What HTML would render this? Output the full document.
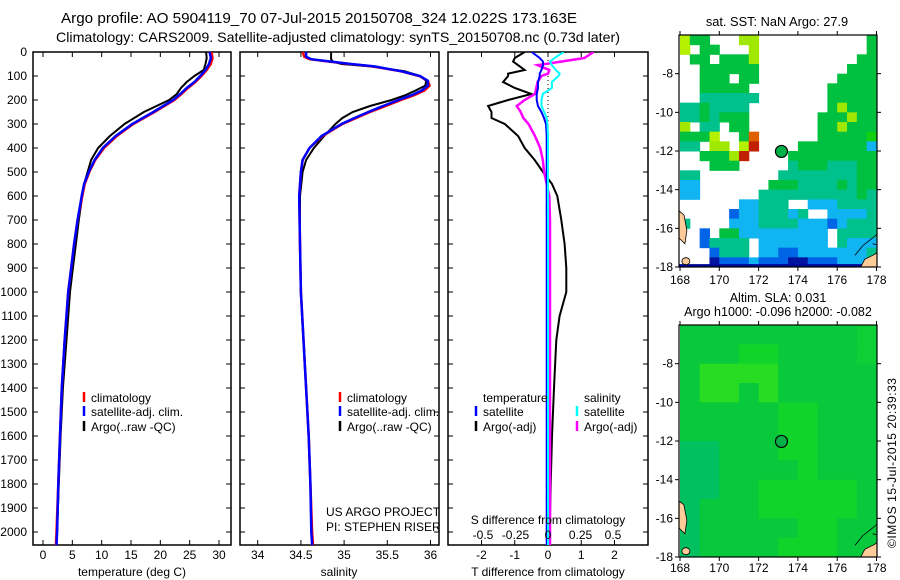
<!DOCTYPE html>
<html><head><meta charset="utf-8">
<style>
html,body{margin:0;padding:0;background:#fff;}
svg{display:block;font-family:"Liberation Sans",sans-serif;}
text{font-size:12px;fill:#000;}
</style></head>
<body>
<svg id="fig" width="900" height="580" viewBox="0 0 900 580" xmlns="http://www.w3.org/2000/svg">
<text x="61" y="23" textLength="516" lengthAdjust="spacingAndGlyphs" style="font-size:14.5px">Argo profile: AO 5904119_70 07-Jul-2015 20150708_324 12.022S 173.163E</text>
<text x="56" y="42" textLength="564" lengthAdjust="spacingAndGlyphs" style="font-size:14px">Climatology: CARS2009. Satellite-adjusted climatology: synTS_20150708.nc (0.73d later)</text>
<g id="layers"></g>
<text x="326" y="516">US ARGO PROJECT</text>
<text x="326" y="531">PI: STEPHEN RISER</text>
<text x="548" y="524" text-anchor="middle">S difference from climatology</text>
<text x="548" y="576" text-anchor="middle">T difference from climatology</text>
<text x="132" y="576" text-anchor="middle">temperature (deg C)</text>
<text x="339" y="576" text-anchor="middle">salinity</text>
<text x="777" y="26" text-anchor="middle" style="font-size:12.8px">sat. SST: NaN Argo: 27.9</text>
<text x="778" y="302" text-anchor="middle" style="font-size:12.5px">Altim. SLA: 0.031</text>
<text x="778" y="316" text-anchor="middle" style="font-size:12.5px">Argo h1000: -0.096 h2000: -0.082</text>
<text x="0" y="0" transform="translate(896,463) rotate(-90)" text-anchor="middle" textLength="170">©IMOS 15-Jul-2015 20:39:33</text>
</svg>
<script>
// ---- data ----
const tDepth=[0,25,50,75,100,125,150,175,200,250,300,350,400,450,500,550,600,700,800,900,1000,1200,1400,1600,1800,2000,2054];
const tClim=[28.7,28.9,28.6,27.9,27.0,26.0,24.7,23.6,22.4,19.0,15.4,12.6,10.4,8.9,7.9,7.1,6.7,5.9,5.3,4.8,4.3,3.7,3.2,2.9,2.6,2.3,2.2];
const tSat=[28.4,28.6,28.3,27.7,26.8,25.8,24.5,23.4,22.2,18.8,15.2,12.4,10.2,8.8,7.8,7.0,6.6,5.9,5.3,4.8,4.3,3.7,3.2,2.9,2.6,2.4,2.3];
const tArgo=[27.8,27.9,27.7,27.4,25.8,24.5,23.5,22.8,21.5,17.2,13.9,11.4,9.4,8.2,7.6,7.0,6.7,6.1,5.6,5.1,4.6,4.0,3.4,3.0,2.7,2.4,2.3];
const sDepth=[0,20,30,40,50,60,80,100,120,140,160,180,200,225,250,275,300,350,400,450,500,600,800,1000,1200,1400,1600,1800,2000,2054];
const sClim=[34.52,34.54,34.6,34.83,35.06,35.33,35.65,35.87,35.97,35.99,35.93,35.81,35.66,35.48,35.3,35.14,34.98,34.75,34.6,34.52,34.5,34.48,34.49,34.5,34.53,34.56,34.59,34.61,34.63,34.64];
const sSat=[34.56,34.56,34.62,34.85,35.08,35.35,35.66,35.88,35.97,35.97,35.9,35.78,35.63,35.45,35.28,35.12,34.97,34.74,34.6,34.52,34.5,34.48,34.49,34.5,34.53,34.56,34.59,34.61,34.62,34.63];
const sArgo=[34.85,34.85,34.85,34.87,34.97,35.3,35.7,35.88,35.95,35.94,35.83,35.71,35.55,35.3,35.1,34.98,34.9,34.77,34.65,34.56,34.52,34.49,34.49,34.5,34.53,34.56,34.59,34.61,34.62,34.63];
const dDepth=[0,25,40,55,75,90,100,125,150,175,200,225,250,275,300,350,400,450,500,550,600,700,800,900,1000,1100,1200,1400,1600,1800,2000,2054];
const dTArgo=[-0.7,-1.0,-1.05,-0.9,-0.7,-1.2,-1.2,-1.35,-1.0,-0.5,-1.2,-1.8,-1.7,-1.7,-1.3,-0.9,-0.7,-0.4,-0.15,0.12,0.28,0.4,0.5,0.55,0.55,0.35,0.25,0.18,0.12,0.08,0.05,0.05];
const dTSat=[-0.49,-0.25,-0.15,-0.15,-0.2,-0.25,-0.25,-0.3,-0.3,-0.34,-0.34,-0.3,-0.2,-0.12,-0.06,-0.04,-0.04,-0.04,-0.04,-0.04,-0.04,-0.04,-0.04,-0.04,-0.04,-0.04,-0.04,-0.04,-0.04,-0.04,-0.04,-0.04];
const dSSat=[0.12,0.05,0.015,0.03,0.06,0.09,0.08,0.03,0.03,-0.04,-0.05,-0.05,-0.03,-0.01,-0.005,0,0,0,0,0,0,0,0,0,0,0,0,0,0,0,0,0];
const dSArgo=[0.35,0.28,0.1,-0.08,0.01,0.0,-0.05,-0.08,-0.09,-0.1,-0.18,-0.24,-0.21,-0.19,-0.15,-0.1,-0.06,-0.04,-0.03,-0.01,0.01,0.015,0.015,0.015,0.015,0.015,0.015,0.015,0.015,0.015,0.015,0.015];
const depthTicks=[0,100,200,300,400,500,600,700,800,900,1000,1100,1200,1300,1400,1500,1600,1700,1800,1900,2000];
const tempTicks=[0,5,10,15,20,25,30];
const salTicks=[34,34.5,35,35.5,36];
const tdTicks=[-2,-1,0,1,2];
const sdTicks=[-0.5,-0.25,0,0.25,0.5];
const lonTicks=[168,170,172,174,176,178];
const latTicks=[-8,-10,-12,-14,-16,-18];
const argoLon=173.163, argoLat=-12.022;
// SST map grid: 0.5 deg cells from lat -6 downwards, lon 168 eastwards
const sstRows=[
"ygg...YY...........gg",
"y.gg...Y...........gg",
".gg.gggY..........ggg",
"..gggggg.........gggg",
"..ggg.gg........ggggg",
"..ggggg........gggggg",
"..cccccc.......gggggg",
"ccgcccc........gYgggg",
"ccgcggg.......gggYggg",
"Y.cc.gg.......ggYgggg",
"gggy..go......gggggGg",
"cc.YY.yr....gggggggbg",
"..gggYr....gggggggggg",
"...ggg.....cgggcccggg",
"cc........ccccccccggg",
"bb.......gggccccgcggg",
"bb......ccccccccccgcg",
"......bbccc..bbbccccc",
".....Bbbcccbc..bbbbcb",
"c....bbbccccbbbBbcccb",
"..B.ggbbbbbbbbb.ccccb",
"..Bcccc.bbbbbbb.cbbbb",
"...Bccc.bbBBbbbbbbbcb",
"...DBBBbBBBDDBBBbbbbb"
];
const sstColors={g:"#00c040",G:"#10d010",c:"#00c08c",b:"#10b4f0",B:"#0064e6",D:"#0014a0",y:"#b4f000",Y:"#a0e800",o:"#e06000",r:"#c02000"};
// SLA map grid: 1 deg cells
const slaRows=[
"gggggggggll",
"gggGGggggll",
"gLLLLgggggg",
"gLLgLgggggL",
"gggggGGgggg",
"gggggGGgggg",
"ttgggGGgggg",
"ttggggGgggg",
"ttggGGGGGgg",
"tgggGGGGGgg",
"tgggggGGggg",
"tggggGGGggg"
];
const slaColors={g:"#08c83c",G:"#10d42a",L:"#28dc24",l:"#0cd036",t:"#00c060"};

// ---- helpers ----
const layers=document.getElementById('layers');
const NS="http://www.w3.org/2000/svg";
function mk(tag,attrs,parent){const e=document.createElementNS(NS,tag);for(const k in attrs)e.setAttribute(k,attrs[k]);(parent||layers).appendChild(e);return e;}
const Y0=52, PY=0.24, YB=545;
function yD(d){return Y0+d*PY;}
function lin(v0,p0,v1,p1){return v=>p0+(v-v0)*(p1-p0)/(v1-v0);}
const xT=lin(0,43,30,219);
const xS=lin(34,257.7,36,430.5);
const xTD=lin(0,548,2,614.5);
const xSD=lin(0,548,0.5,613);

function panel(name,x0,x1,xScale,topTicks,clipId){
  const g=mk('g',{});
  
  
  const cp=mk('clipPath',{id:clipId},g);
  mk('rect',{x:x0,y:Y0,width:x1-x0,height:YB-Y0},cp);
  const fr=mk('rect',{x:x0,y:Y0,width:x1-x0,height:YB-Y0,fill:'none',stroke:'#000','stroke-width':1.5},g);
  
  
  depthTicks.forEach(d=>{mk('line',{x1:x0,x2:x0+5,y1:yD(d),y2:yD(d),stroke:'#000'},g);mk('line',{x1:x1-5,x2:x1,y1:yD(d),y2:yD(d),stroke:'#000'},g);});
  topTicks.forEach(v=>{const x=xScale(v);mk('line',{x1:x,x2:x,y1:Y0,y2:Y0+5,stroke:'#000'},g);mk('line',{x1:x,x2:x,y1:YB-5,y2:YB,stroke:'#000'},g);});
  return g;
}
function series(g,name,depths,vals,scale,color,w,clipId){
  const pts=vals.map((v,i)=>scale(v).toFixed(1)+','+yD(depths[i]).toFixed(1)).join(' ');
  const p=mk('polyline',{points:pts,fill:'none',stroke:color,'stroke-width':w,'clip-path':'url(#'+clipId+')'},g);
  
  
}
function label(g,x,y,txt,anchor,name){
  const t=mk('text',{x:x,y:y,'text-anchor':anchor||'start'},g);t.textContent=txt;
  
  
  return t;
}
function legendItem(g,x,y,color,txt,name){
  mk('line',{x1:x,x2:x,y1:y-10,y2:y,stroke:color,'stroke-width':2.5},g);
  label(g,x+7,y,txt,'start',name);
}

const dl=mk('g',{});


depthTicks.forEach(d=>{label(dl,27,yD(d)+4,String(d),'end','depth-tick-label');});

const p1=panel('temperature-panel',33,231,xT,tempTicks,'c1');
series(p1,'temp-argo-line',tDepth,tArgo,xT,'#000',2,'c1');
series(p1,'temp-climatology-line',tDepth,tClim,xT,'#f00',2.5,'c1');
series(p1,'temp-satellite-line',tDepth,tSat,xT,'#00f',2.5,'c1');
tempTicks.forEach(v=>label(p1,xT(v),559,String(v),'middle','temp-tick-label'));
legendItem(p1,84,402,'#f00','climatology','legend-climatology');
legendItem(p1,84,416,'#00f','satellite-adj. clim.','legend-satellite');
legendItem(p1,84,431,'#000','Argo(..raw -QC)','legend-argo');

const p2=panel('salinity-panel',240,439,xS,salTicks,'c2');
series(p2,'sal-argo-line',sDepth,sArgo,xS,'#000',2,'c2');
series(p2,'sal-climatology-line',sDepth,sClim,xS,'#f00',2.5,'c2');
series(p2,'sal-satellite-line',sDepth,sSat,xS,'#00f',2.5,'c2');
salTicks.forEach(v=>label(p2,xS(v),559,String(v),'middle','sal-tick-label'));
legendItem(p2,340,402,'#f00','climatology','legend-climatology');
legendItem(p2,340,416,'#00f','satellite-adj. clim.','legend-satellite');
legendItem(p2,340,431,'#000','Argo(..raw -QC)','legend-argo');

const p3=panel('difference-panel',448,648,xTD,tdTicks,'c3');
mk('line',{x1:548,x2:548,y1:Y0,y2:yD(500),stroke:'#000','stroke-dasharray':'1,3'},p3);
series(p3,'tdiff-argo-line',dDepth,dTArgo,xTD,'#000',2,'c3');
series(p3,'sdiff-argo-line',dDepth,dSArgo,xSD,'#f0f',2.5,'c3');
series(p3,'tdiff-satellite-line',dDepth,dTSat,xTD,'#00f',2,'c3');
series(p3,'sdiff-satellite-line',dDepth,dSSat,xSD,'#0ff',2,'c3');
tdTicks.forEach(v=>label(p3,xTD(v),559,String(v),'middle','tdiff-tick-label'));
sdTicks.forEach(v=>label(p3,xSD(v),539,String(v),'middle','sdiff-tick-label'));
label(p3,483,402,'temperature','start','legend-temperature-heading');
legendItem(p3,476,416,'#00f','satellite','legend-t-satellite');
legendItem(p3,476,431,'#000','Argo(-adj)','legend-t-argo');
label(p3,584,402,'salinity','start','legend-salinity-heading');
legendItem(p3,577,416,'#0ff','satellite','legend-s-satellite');
legendItem(p3,577,431,'#f0f','Argo(-adj)','legend-s-argo');

function map(name,top,bottom,rows,colors,cellDeg,labelY){
  const g=mk('g',{});
  
  
  const L=679,R=877;
  const xL=lin(168,680,178,876.5);
  const yL=lin(-6,top,-18,bottom);
  const cid=name+'-clip';
  const cp=mk('clipPath',{id:cid},g);
  mk('rect',{x:L,y:top,width:R-L,height:bottom-top},cp);
  const cg=mk('g',{'clip-path':'url(#'+cid+')'},g);
  mk('rect',{x:L,y:top,width:R-L,height:bottom-top,fill:'#fff'},cg);
  rows.forEach((row,r)=>{for(let c=0;c<row.length;c++){const ch=row[c];if(!colors[ch])continue;
    const x=xL(168+c*cellDeg), y=yL(-6-r*cellDeg);
    const w=xL(168+(c+1)*cellDeg)-x+0.5, h=yL(-6-(r+1)*cellDeg)-y+0.5;
    const cell=mk('rect',{x:x,y:y,width:w,height:h,fill:colors[ch]},cg);
    
    
  }});
  if(name==='sst-map'){mk('rect',{x:L,y:yL(-17.85),width:R-L,height:bottom-yL(-17.85),fill:'#000a96'},cg);}
  const land='#ffcc99';
  mk('path',{d:`M${xL(177.2)},${bottom} L${xL(177.4)},${yL(-17.6)} L${xL(177.9)},${yL(-17.35)} L${R},${yL(-17.25)} L${R},${bottom} Z`,fill:land,stroke:'#000','stroke-width':0.8},cg);
  mk('path',{d:`M${xL(176.9)},${yL(-17.4)} L${xL(177.3)},${yL(-16.9)} L${xL(177.8)},${yL(-16.5)} L${R},${yL(-16.3)} M${xL(177.8)},${yL(-16.8)} L${R},${yL(-16.85)}`,fill:'none',stroke:'#000','stroke-width':0.8},cg);
  mk('ellipse',{cx:xL(168.3),cy:yL(-17.7),rx:4,ry:3.5,fill:land,stroke:'#000','stroke-width':0.8},cg);
  mk('path',{d:`M${L},${yL(-15.1)} L${xL(168.2)},${yL(-15.3)} L${xL(168.35)},${yL(-16.1)} L${xL(168.25)},${yL(-16.8)} L${L},${yL(-16.5)} Z`,fill:land,stroke:'#000','stroke-width':0.8},cg);
  const fr=mk('rect',{x:L,y:top,width:R-L,height:bottom-top,fill:'none',stroke:'#000','stroke-width':1.2},g);
  
  
  const mark=mk('circle',{cx:xL(argoLon),cy:yL(argoLat),r:6,fill:'#00b048',stroke:'#000','stroke-width':1.2},g);
  
  
  lonTicks.forEach(v=>{const x=xL(v);mk('line',{x1:x,x2:x,y1:top-4,y2:top,stroke:'#000'},g);mk('line',{x1:x,x2:x,y1:bottom,y2:bottom+4,stroke:'#000'},g);
    label(g,x,labelY,String(v),'middle','lon-tick-label');});
  latTicks.forEach(v=>{const y=yL(v);mk('line',{x1:L-4,x2:L,y1:y,y2:y,stroke:'#000'},g);mk('line',{x1:R,x2:R+4,y1:y,y2:y,stroke:'#000'},g);
    label(g,L-6,y+4,String(v),'end','lat-tick-label');});
}
map('sst-map',35,267,sstRows,sstColors,0.5,284);
map('sla-map',325,557,slaRows,slaColors,1,572);
</script>
</body></html>
